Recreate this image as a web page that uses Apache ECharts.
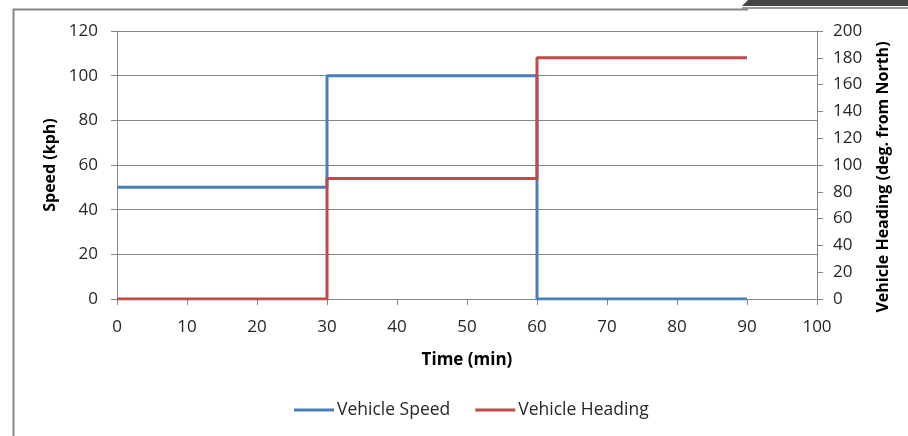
<!DOCTYPE html>
<html>
<head>
<meta charset="utf-8">
<script src="https://cdn.jsdelivr.net/npm/echarts@6/dist/echarts.min.js"></script>
<style>html,body{margin:0;padding:0;background:#fff}#c{width:908px;height:436px}</style>
</head>
<body>
<div id="c"></div>
<script>
var timeMin = [0, 30, 60, 90];
var speedKph = [50, 100, 0, 0];
var headingDeg = [0, 90, 180, 180];
var xTicks = [0, 10, 20, 30, 40, 50, 60, 70, 80, 90, 100];
var seriesNames = ['Vehicle Speed', 'Vehicle Heading'];

var FONT = 'Open Sans';
var chart = echarts.init(document.getElementById('c'), null, {renderer: 'canvas'});
function pairs(xs, ys) { return xs.map(function (x, i) { return [x, ys[i]]; }); }
var axisGray = '#868686';
var txt = '#262626';
chart.setOption({
  animation: false,
  textStyle: {fontFamily: FONT},
  graphic: [
    {type: 'polygon', shape: {points: [[748, 0], [908, 0], [908, 6], [742, 6]]}, style: {fill: '#454545'}, silent: true},
    {type: 'line', shape: {x1: 742, y1: 8, x2: 908, y2: 8}, style: {stroke: '#999', lineWidth: 2}, silent: true},
    {type: 'polyline', shape: {points: [[13.5, 440], [13.5, 9.5], [748, 9.5]]}, style: {stroke: axisGray, lineWidth: 2, fill: null}, silent: true}
  ],
  grid: {left: 117, right: 91, top: 31, bottom: 137},
  legend: {
    data: seriesNames,
    bottom: 12,
    left: 289,
    icon: 'rect',
    itemWidth: 40,
    itemHeight: 3,
    itemGap: 25,
    textStyle: {fontFamily: FONT, fontSize: 17.5, color: txt, padding: [0, 0, 0, -2]}
  },
  xAxis: {
    type: 'value', min: 0, max: 100, interval: 10,
    name: 'Time (min)', nameLocation: 'middle', nameGap: 53,
    nameTextStyle: {fontFamily: FONT, fontWeight: 'bold', fontSize: 17, color: '#000'},
    axisLine: {show: true, lineStyle: {color: axisGray}},
    axisTick: {show: true, length: 6, lineStyle: {color: axisGray}},
    axisLabel: {fontFamily: FONT, fontSize: 17, color: txt, margin: 20, showMaxLabel: true},
    splitLine: {show: false}
  },
  yAxis: [
    {
      type: 'value', min: 0, max: 120, interval: 20, position: 'left',
      name: 'Speed (kph)', nameLocation: 'middle', nameGap: 50, nameRotate: 90,
      nameTextStyle: {fontFamily: FONT, fontWeight: 'bold', fontSize: 16, color: '#000'},
      axisLine: {show: true, lineStyle: {color: axisGray}},
      axisTick: {show: true, length: 6, lineStyle: {color: axisGray}},
      axisLabel: {fontFamily: FONT, fontSize: 17, color: txt, margin: 19},
      splitLine: {show: true, lineStyle: {color: axisGray, width: 1}}
    },
    {
      type: 'value', min: 0, max: 200, interval: 20, position: 'right',
      name: 'Vehicle Heading (deg. from North)', nameLocation: 'middle', nameGap: 58, nameRotate: 90,
      nameTextStyle: {fontFamily: FONT, fontWeight: 'bold', fontSize: 16, color: '#000', padding: [0, 24, 0, 0]},
      axisLine: {show: true, lineStyle: {color: axisGray}},
      axisTick: {show: true, length: 6, lineStyle: {color: axisGray}},
      axisLabel: {fontFamily: FONT, fontSize: 17, color: txt, margin: 16},
      splitLine: {show: false}
    }
  ],
  series: [
    {
      name: seriesNames[0], type: 'line', yAxisIndex: 0, step: 'end',
      data: pairs(timeMin, speedKph), showSymbol: false, symbol: 'none',
      itemStyle: {color: '#4a7ebb'}, lineStyle: {color: '#4a7ebb', width: 3}
    },
    {
      name: seriesNames[1], type: 'line', yAxisIndex: 1, step: 'end',
      data: pairs(timeMin, headingDeg), showSymbol: false, symbol: 'none',
      itemStyle: {color: '#be4b48'}, lineStyle: {color: '#be4b48', width: 3}
    }
  ]
});
</script>
</body>
</html>
